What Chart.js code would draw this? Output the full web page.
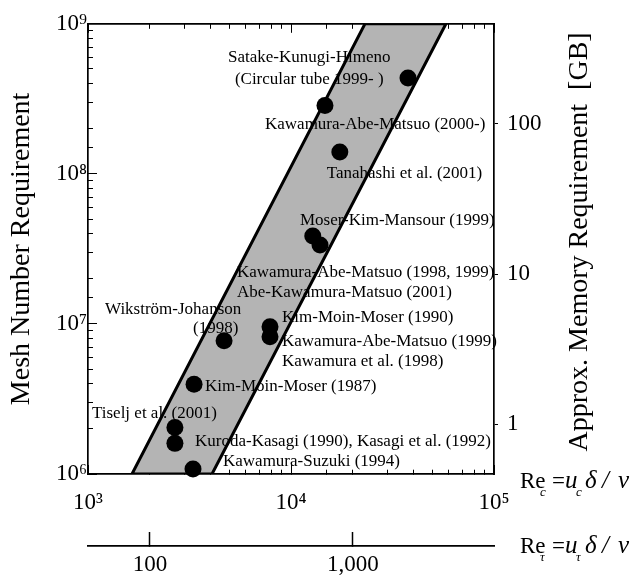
<!DOCTYPE html>
<html>
<head>
<meta charset="utf-8">
<script src="https://cdn.jsdelivr.net/npm/chart.js@4.4.1/dist/chart.umd.min.js"></script>
<style>
  html, body { margin: 0; padding: 0; background: #fff; }
  #wrap { width: 642px; height: 580px; position: relative; }
</style>
</head>
<body>
<div id="wrap"><canvas id="meshChart"></canvas></div>
<script>
// DNS runs of turbulent channel/pipe flow: Re_c against number of mesh points
const runReC = [37700, 14700, 17400, 12800, 13900, 7880, 7880, 4680, 3330, 2680, 2680, 3290];
const runMesh = [4.35e8, 2.85e8, 1.40e8, 3.85e7, 3.36e7, 9.56e6, 8.21e6, 7.73e6, 3.97e6, 2.04e6, 1.60e6, 1.08e6];

// grey band (corners of the parallelogram, closed)
const bandReC = [1647, 23140, 58000, 4082, 1647];
const bandMesh = [1e6, 1e9, 1e9, 1e6, 1e6];

// secondary axes
const meshPerGB = 2.15e6;
const reCPerReTau = 20.2;
const gbTicks = [1, 10, 100];
const reTauTicks = [100, 1000];
const reTauTickLabels = ['100', '1,000'];

// text notes, anchored in data coordinates
const notes = [
  { text: 'Satake-Kunugi-Himeno', reC: 12300, mesh: 5.98e8, align: 'center' },
  { text: '(Circular tube 1999- )', reC: 12300, mesh: 4.22e8, align: 'center' },
  { text: 'Kawamura-Abe-Matsuo (2000-)', reC: 7445, mesh: 2.13e8, align: 'left' },
  { text: 'Tanahashi et al. (2001)', reC: 15000, mesh: 1.0e8, align: 'left' },
  { text: 'Moser-Kim-Mansour (1999)', reC: 11070, mesh: 4.91e7, align: 'left' },
  { text: 'Kawamura-Abe-Matsuo (1998, 1999)', reC: 5420, mesh: 2.20e7, align: 'left' },
  { text: 'Abe-Kawamura-Matsuo (2001)', reC: 5420, mesh: 1.62e7, align: 'left' },
  { text: 'Wikström-Johanson', reC: 1213, mesh: 1.255e7, align: 'left' },
  { text: '(1998)', reC: 3290, mesh: 9.27e6, align: 'left' },
  { text: 'Kim-Moin-Moser (1990)', reC: 9030, mesh: 1.11e7, align: 'left' },
  { text: 'Kawamura-Abe-Matsuo (1999)', reC: 9030, mesh: 7.61e6, align: 'left' },
  { text: 'Kawamura et al. (1998)', reC: 9030, mesh: 5.62e6, align: 'left' },
  { text: 'Kim-Moin-Moser (1987)', reC: 3771, mesh: 3.85e6, align: 'left' },
  { text: 'Tiselj et al. (2001)', reC: 1046, mesh: 2.52e6, align: 'left' },
  { text: 'Kuroda-Kasagi (1990), Kasagi et al. (1992)', reC: 3366, mesh: 1.65e6, align: 'left' },
  { text: 'Kawamura-Suzuki (1994)', reC: 4624, mesh: 1.22e6, align: 'left' }
];

const SERIF = '"Liberation Serif", "Times New Roman", serif';
const tickFont = { family: SERIF, size: 23 };
const SUP = '⁰¹²³⁴⁵⁶⁷⁸⁹';

function isPow10(v) {
  const e = Math.log10(v);
  return Math.abs(e - Math.round(e)) < 1e-9;
}
function pow10Label(v) {
  if (!isPow10(v)) return '';
  return '10' + String(Math.round(Math.log10(v))).split('').map(d => SUP[d]).join('');
}

// ticks pointing into the plot, minor ones shortened with a dash pattern
function innerGrid(startsAtAxis) {
  return {
    drawOnChartArea: false,
    drawTicks: true,
    tickLength: -9,
    color: '#000',
    tickColor: '#000',
    tickWidth: 1,
    tickBorderDash: c => (c.tick && !isPow10(c.tick.value)) ? [5, 100] : [],
    tickBorderDashOffset: c => (c.tick && !isPow10(c.tick.value) && !startsAtAxis) ? 101 : 0
  };
}
const axisBorder = { display: true, color: '#000', width: 1.7 };

const decorPlugin = {
  id: 'decor',
  afterDatasetDraw(chart, args) {
    if (args.index !== 2) return;
    const { ctx, scales: { x, y } } = chart;
    ctx.save();
    ctx.font = '17px ' + SERIF;
    ctx.fillStyle = '#000';
    ctx.textBaseline = 'middle';
    notes.forEach(n => {
      ctx.textAlign = n.align;
      ctx.fillText(n.text, x.getPixelForValue(n.reC), y.getPixelForValue(n.mesh));
    });
    ctx.restore();
  },
  afterDraw(chart) {
    const { ctx, chartArea, scales } = chart;
    ctx.save();
    ctx.fillStyle = '#000';
    // right-hand axis title, reading upwards
    ctx.translate(chartArea.right + 86, (chartArea.top + chartArea.bottom) / 2 - 7);
    ctx.rotate(-Math.PI / 2);
    ctx.font = '28px ' + SERIF;
    ctx.textAlign = 'center';
    ctx.textBaseline = 'middle';
    ctx.fillText('Approx. Memory Requirement  [GB]', 0, 0);
    ctx.restore();

    drawDefinition(ctx, chartArea.right + 26, chartArea.bottom + 14, 'c');
    drawDefinition(ctx, chartArea.right + 26, scales.xTau.top + 7, 'τ');
  }
};

function drawDefinition(ctx, x0, base, sub) {
  const roman = '23px ' + SERIF;
  const ital = 'italic 25px ' + SERIF;
  const small = 'italic 13px ' + SERIF;
  const parts = [
    ['Re', roman, 0, 0],
    [sub, small, 20, 8],
    ['=', roman, 32, 0],
    ['u', ital, 45, 0],
    [sub, small, 56, 8],
    ['δ', ital, 65, 0],
    ['/', ital, 82, 0],
    ['ν', ital, 98, 0]
  ];
  ctx.save();
  ctx.fillStyle = '#000';
  ctx.textAlign = 'left';
  ctx.textBaseline = 'alphabetic';
  parts.forEach(([t, f, dx, dy]) => {
    ctx.font = f;
    ctx.fillText(t, x0 + dx, base + dy);
  });
  ctx.restore();
}

new Chart(document.getElementById('meshChart'), {
  type: 'scatter',
  data: {
    datasets: [
      {
        label: 'DNS runs',
        data: runReC.map((v, i) => ({ x: v, y: runMesh[i] })),
        pointRadius: 8.5,
        pointBackgroundColor: '#000',
        pointBorderWidth: 0,
        pointHoverRadius: 8.5,
        clip: false
      },
      {
        type: 'line',
        label: 'band edge',
        data: bandReC.map((v, i) => ({ x: v, y: bandMesh[i] })),
        borderColor: '#000',
        borderWidth: 3,
        borderJoinStyle: 'miter',
        pointRadius: 0,
        tension: 0,
        fill: false
      },
      {
        type: 'line',
        label: 'band',
        data: bandReC.map((v, i) => ({ x: v, y: bandMesh[i] })),
        backgroundColor: '#b4b4b4',
        borderWidth: 0,
        pointRadius: 0,
        tension: 0,
        fill: 'shape'
      }
    ]
  },
  options: {
    responsive: true,
    maintainAspectRatio: false,
    animation: false,
    events: [],
    devicePixelRatio: 1,
    layout: { padding: { left: 0, top: 18, right: 0, bottom: 0 } },
    plugins: { legend: { display: false }, tooltip: { enabled: false } },
    scales: {
      x: {
        type: 'logarithmic', position: 'bottom', min: 1e3, max: 1e5,
        grid: innerGrid(true),
        border: axisBorder,
        ticks: { autoSkip: false, maxRotation: 0, padding: 24, color: '#000', font: tickFont, callback: v => pow10Label(v) },
        afterFit: s => { s.height = 72; }
      },
      xTop: {
        type: 'logarithmic', position: 'top', min: 1e3, max: 1e5,
        grid: innerGrid(false),
        border: axisBorder,
        ticks: { display: false, autoSkip: false },
        afterFit: s => { s.height = 0; }
      },
      xTau: {
        type: 'logarithmic', position: 'bottom', min: 1e3 / reCPerReTau, max: 1e5 / reCPerReTau,
        grid: { drawOnChartArea: false, tickLength: -14, color: '#000', tickColor: '#000', tickWidth: 1.5 },
        border: axisBorder,
        afterBuildTicks: s => { s.ticks = reTauTicks.map(v => ({ value: v })); },
        ticks: { autoSkip: false, maxRotation: 0, padding: 19, color: '#000', font: tickFont, callback: (v, i) => reTauTickLabels[i] },
        afterFit: s => { s.height = 34; }
      },
      y: {
        type: 'logarithmic', position: 'left', min: 1e6, max: 1e9,
        grid: innerGrid(false),
        border: axisBorder,
        ticks: { autoSkip: false, padding: 10, color: '#000', font: tickFont, callback: v => pow10Label(v) },
        title: { display: true, text: 'Mesh Number Requirement', color: '#000', font: { family: SERIF, size: 28 }, padding: { top: 5, bottom: 0 } },
        afterFit: s => { s.width = 88; }
      },
      yGB: {
        type: 'logarithmic', position: 'right', min: 1e6 / meshPerGB, max: 1e9 / meshPerGB,
        grid: { drawOnChartArea: false, tickLength: 4, color: '#000', tickColor: '#000', tickWidth: 1 },
        border: axisBorder,
        afterBuildTicks: s => { s.ticks = gbTicks.map(v => ({ value: v })); },
        ticks: { autoSkip: false, padding: 9, color: '#000', font: tickFont, callback: v => String(v) },
        afterFit: s => { s.width = 148; }
      }
    }
  },
  plugins: [decorPlugin]
});
</script>
</body>
</html>
